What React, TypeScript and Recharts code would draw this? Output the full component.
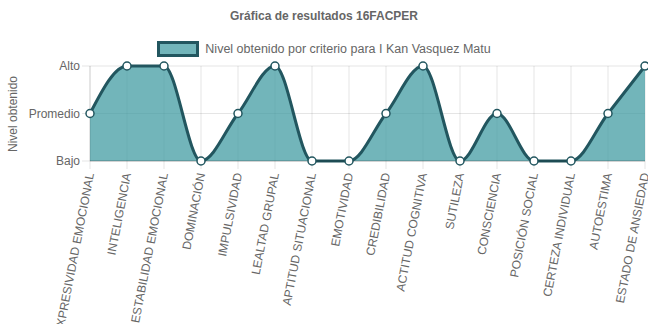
import { AreaChart, Area, XAxis, YAxis, CartesianGrid } from 'recharts'

const CRITERIA = [
  'EXPRESIVIDAD EMOCIONAL',
  'INTELIGENCIA',
  'ESTABILIDAD EMOCIONAL',
  'DOMINACIÓN',
  'IMPULSIVIDAD',
  'LEALTAD GRUPAL',
  'APTITUD SITUACIONAL',
  'EMOTIVIDAD',
  'CREDIBILIDAD',
  'ACTITUD COGNITIVA',
  'SUTILEZA',
  'CONSCIENCIA',
  'POSICIÓN SOCIAL',
  'CERTEZA INDIVIDUAL',
  'AUTOESTIMA',
  'ESTADO DE ANSIEDAD',
]
// 1 = Bajo, 2 = Promedio, 3 = Alto
const LEVELS = [2, 3, 3, 1, 2, 3, 1, 1, 2, 3, 1, 2, 1, 1, 2, 3]
const LEVEL_TICKS = [1, 2, 3]
const LEVEL_NAMES: Record<number, string> = { 1: 'Bajo', 2: 'Promedio', 3: 'Alto' }

const TITLE = 'Gráfica de resultados 16FACPER'
const SERIES_NAME = 'Nivel obtenido por criterio para I Kan Vasquez Matu'

const data = CRITERIA.map((name, i) => ({ name, nivel: LEVELS[i] }))

const FONT = '"Liberation Sans", Arial, Helvetica, sans-serif'
const TEXT_COLOR = '#666'
const STROKE = '#22565f'
const FILL = '#3e9aa1'

function RotatedTick({ x, y, payload }: any) {
  return (
    <g transform={`translate(${x},${y + 2})`}>
      <text
        transform="rotate(-79)"
        textAnchor="end"
        dy="0.35em"
        fontSize={12}
        fontFamily={FONT}
        fill={TEXT_COLOR}
      >
        {payload.value}
      </text>
    </g>
  )
}

function YLabel() {
  return (
    <text
      transform="translate(13,114) rotate(-90)"
      textAnchor="middle"
      dy="0.35em"
      fontSize={12}
      fontFamily={FONT}
      fill={TEXT_COLOR}
    >
      Nivel obtenido
    </text>
  )
}

export default function App() {
  return (
    <div style={{ position: 'absolute', left: 0, top: 0, width: 648, height: 324, background: '#fff', fontFamily: FONT }}>
      <div
        style={{
          position: 'absolute',
          top: 9,
          left: 0,
          width: 648,
          textAlign: 'center',
          fontSize: 12,
          fontWeight: 'bold',
          color: TEXT_COLOR,
        }}
      >
        {TITLE}
      </div>
      <div
        style={{
          position: 'absolute',
          top: 41,
          left: 0,
          width: 648,
          display: 'flex',
          justifyContent: 'center',
          alignItems: 'center',
          fontSize: 12.5,
          color: TEXT_COLOR,
        }}
      >
        <span
          style={{
            display: 'inline-block',
            width: 36,
            height: 10,
            background: '#72b5ba',
            border: `3px solid ${STROKE}`,
            marginRight: 6,
          }}
        />
        <span>{SERIES_NAME}</span>
      </div>
      <AreaChart
        width={648}
        height={324}
        data={data}
        margin={{ top: 66, right: 3, bottom: 8, left: 0 }}
        style={{ position: 'absolute', left: 0, top: 0 }}
      >
        <CartesianGrid stroke="rgba(0,0,0,0.1)" vertical horizontal />
        <XAxis
          dataKey="name"
          interval={0}
          height={155}
          tick={<RotatedTick />}
          tickSize={8}
          tickLine={{ stroke: 'rgba(0,0,0,0.1)' }}
          axisLine={{ stroke: 'rgba(0,0,0,0.25)' }}
        />
        <YAxis
          type="number"
          domain={[1, 3]}
          ticks={LEVEL_TICKS}
          width={90}
          tickSize={8}
          tickMargin={2}
          tickFormatter={(v: number) => LEVEL_NAMES[v] ?? ''}
          tick={{ fontSize: 12, fontFamily: FONT, fill: TEXT_COLOR }}
          tickLine={{ stroke: 'rgba(0,0,0,0.1)' }}
          axisLine={{ stroke: 'rgba(0,0,0,0.1)' }}
          label={<YLabel />}
        />
        <Area
          type="monotone"
          dataKey="nivel"
          name={SERIES_NAME}
          stroke={STROKE}
          strokeWidth={3}
          fill={FILL}
          fillOpacity={0.73}
          baseValue={1}
          dot={{ r: 4, fill: '#fff', stroke: STROKE, strokeWidth: 1.5, fillOpacity: 1 }}
          activeDot={false}
          isAnimationActive={false}
        />
      </AreaChart>
    </div>
  )
}
